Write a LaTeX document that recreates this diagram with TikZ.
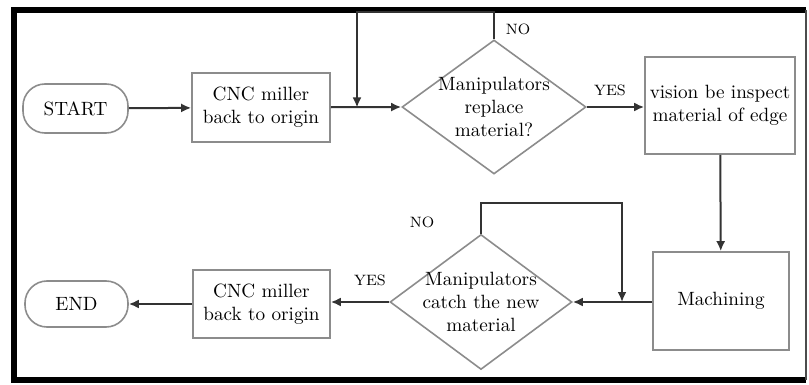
\documentclass[tikz,border=0pt]{standalone}
\usetikzlibrary{shapes.geometric,arrows.meta}
\definecolor{ink}{gray}{0.2}
\definecolor{edge}{gray}{0.55}
\tikzset{
  box/.style={draw=edge,line width=0.8pt,rectangle,align=center,inner sep=0pt,text=black},
  term/.style={box,rounded corners=11pt},
  dec/.style={draw=edge,line width=0.8pt,diamond,inner sep=0pt},
  txt/.style={align=center,inner sep=0pt,text=black},
  lbl/.style={inner sep=0pt,text=black,font=\fontsize{7.5}{9}\selectfont},
  arr/.style={draw=ink,line width=1pt,-{Latex[length=5pt,width=4.5pt]}}
}
\begin{document}
\begin{tikzpicture}[x=0.5pt,y=-0.5pt,font=\fontsize{9.6}{11.5}\selectfont]
\useasboundingbox (0,0) rectangle (809,385);
\draw[black,line width=2.6pt] (806,10) -- (14,10) -- (14,380) -- (806,380);
\draw[black!70,line width=0.6pt] (806,10) -- (806,380);
\node[term,minimum width=52.5pt,minimum height=24.5pt] (start) at (75.5,108.5) {START};
\node[box,minimum width=69pt,minimum height=34.5pt] (cnc1) at (261,107.5) {CNC miller\\back to origin};
\node[dec,minimum width=92pt,minimum height=67pt] (d1) at (494,107) {};
\node[txt] (d1t) at (d1) {Manipulators\\replace\\material?};
\node[box,minimum width=75pt,minimum height=48.5pt] (vis) at (720,105.5) {vision be inspect\\material of edge};
\node[box,minimum width=68pt,minimum height=49pt] (mach) at (721,301) {Machining};
\node[dec,minimum width=91pt,minimum height=67.5pt] (d2) at (481,302) {};
\node[txt] (d2t) at (d2) {Manipulators\\catch the new\\material};
\node[box,minimum width=68.5pt,minimum height=34pt] (cnc2) at (261.5,304) {CNC miller\\back to origin};
\node[term,minimum width=51.5pt,minimum height=23pt] (end) at (76.5,304) {END};
\node[lbl] (no1) at (518,29) {NO};
\node[lbl] (yes1) at (610,90) {YES};
\node[lbl] (no2) at (422,222) {NO};
\node[lbl] (yes2) at (370,280) {YES};
\coordinate (j1) at (357,107.5);
\coordinate (t1) at (357,12);
\coordinate (j2) at (622,302);
\coordinate (t2) at (622,203);
\draw[arr] (start) -- (cnc1);
\draw[arr] (cnc1) -- (d1.west);
\draw[arr] (d1.north) |- (t1) -- (j1);
\draw[arr] (d1.east) -- (d1.east -| vis.west);
\draw[arr] (vis) -- (mach);
\draw[arr] (mach.west |- d2.east) -- (d2.east);
\draw[arr] (d2.north) |- (t2) -- (j2);
\draw[arr] (d2.west) -- (d2.west -| cnc2.east);
\draw[arr] (cnc2) -- (end);
\end{tikzpicture}
\end{document}
